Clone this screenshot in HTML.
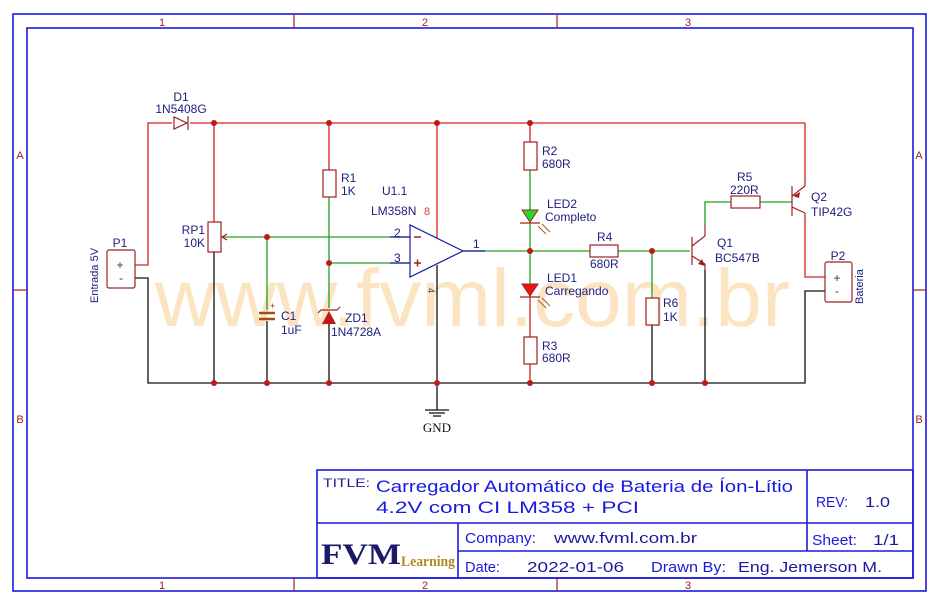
<!DOCTYPE html>
<html><head><meta charset="utf-8"><style>
html,body{margin:0;padding:0;background:#fff;}
svg{display:block;}
text{font-family:"Liberation Sans",Arial,sans-serif;}
</style></head><body>
<svg width="940" height="606" viewBox="0 0 940 606" xmlns="http://www.w3.org/2000/svg">
<rect x="0" y="0" width="940" height="606" fill="#fff"/>
<rect x="13" y="14" width="913" height="577" fill="none" stroke="#1a1adc" stroke-width="1.6"/>
<rect x="27" y="28" width="886" height="550" fill="none" stroke="#1a1adc" stroke-width="1.6"/>
<g stroke="#a02020" stroke-width="1.2">
<line x1="294" y1="14" x2="294" y2="28"/><line x1="557" y1="14" x2="557" y2="28"/>
<line x1="294" y1="578" x2="294" y2="591"/><line x1="557" y1="578" x2="557" y2="591"/>
<line x1="13" y1="290" x2="27" y2="290"/><line x1="913" y1="290" x2="926" y2="290"/>
</g>
<g fill="#a02020" font-size="11" text-anchor="middle">
<text x="162" y="26">1</text><text x="425" y="26">2</text><text x="688" y="26">3</text>
<text x="162" y="589">1</text><text x="425" y="589">2</text><text x="688" y="589">3</text>
<text x="20" y="159">A</text><text x="20" y="423">B</text>
<text x="919" y="159">A</text><text x="919" y="423">B</text>
</g>

<text x="155" y="326" font-size="82" fill="#f9d6a2" opacity="0.65" textLength="635" lengthAdjust="spacingAndGlyphs">www.fvml.com.br</text>

<g stroke="#d42020" stroke-width="1.3" fill="none">
<polyline points="135,265 148,265 148,123 172,123"/>
<line x1="190" y1="123" x2="805" y2="123"/>
<line x1="214" y1="123" x2="214" y2="222"/>
<line x1="329" y1="123" x2="329" y2="170"/>
<line x1="437" y1="123" x2="437" y2="238"/>
<line x1="530" y1="123" x2="530" y2="142"/>
<line x1="530" y1="296" x2="530" y2="337"/>
<line x1="530" y1="364" x2="530" y2="383"/>
<polyline points="805,123 805,180"/>
<polyline points="805,218 805,277 825,277"/>
</g>
<g stroke="#111" stroke-width="1.3" fill="none">
<polyline points="135,278 148,278 148,383 805,383 805,291 825,291"/>
<line x1="214" y1="252" x2="214" y2="383"/>
<line x1="267" y1="321" x2="267" y2="383"/>
<line x1="329" y1="324" x2="329" y2="383"/>
<line x1="437" y1="265" x2="437" y2="410"/>
<line x1="652" y1="325" x2="652" y2="383"/>
<line x1="705" y1="270" x2="705" y2="383"/>
</g>
<g stroke="#20a020" stroke-width="1.3" fill="none">
<line x1="222" y1="237" x2="410" y2="237"/>
<line x1="267" y1="237" x2="267" y2="310"/>
<line x1="329" y1="197" x2="329" y2="308"/>
<line x1="329" y1="263" x2="410" y2="263"/>
<line x1="463" y1="251" x2="590" y2="251"/>
<line x1="618" y1="251" x2="690" y2="251"/>
<line x1="530" y1="170" x2="530" y2="210"/>
<line x1="530" y1="222" x2="530" y2="284"/>
<line x1="652" y1="251" x2="652" y2="298"/>
<polyline points="705,225 705,202 731,202"/>
<line x1="760" y1="202" x2="792" y2="202"/>
</g>
<g stroke="#a02020" stroke-width="1.2" fill="none">
<polygon points="174,117 174,129 187,123" fill="#fff"/>
<line x1="188" y1="116" x2="188" y2="130"/>
<rect x="208" y="222" width="13" height="30" fill="#fff"/>
<polyline points="227,234 222,237 227,240"/>
<rect x="323" y="170" width="13" height="27" fill="#fff"/>
<rect x="524" y="142" width="13" height="28" fill="#fff"/>
<rect x="524" y="337" width="13" height="27" fill="#fff"/>
<rect x="590" y="245" width="28" height="12" fill="#fff"/>
<rect x="731" y="196" width="29" height="12" fill="#fff"/>
<rect x="646" y="298" width="13" height="27" fill="#fff"/>
<rect x="107" y="250" width="28" height="38" rx="2" fill="#fff"/>
<rect x="825" y="262" width="27" height="40" rx="2" fill="#fff"/>
<polygon points="410,225 410,277 463,251" fill="#fff" stroke="#1a1a9a"/>
</g>
<g stroke="#1a1a9a" stroke-width="1.2" fill="none">
<line x1="390" y1="237" x2="410" y2="237"/>
<line x1="390" y1="263" x2="410" y2="263"/>
<line x1="463" y1="251" x2="485" y2="251"/>
</g>
<g stroke="#a02020" stroke-width="1.5">
<line x1="414" y1="237" x2="421" y2="237"/>
<line x1="414" y1="263" x2="421" y2="263"/><line x1="417.5" y1="259.5" x2="417.5" y2="266.5"/>
</g>
<g stroke="#a05010" stroke-width="2.5"><line x1="259" y1="313" x2="275" y2="313"/><line x1="259" y1="319" x2="275" y2="319"/></g>
<text x="270" y="309" font-size="9" fill="#a02020">+</text>
<polygon points="322,324 336,324 329,311" fill="#c01818"/>
<polyline points="318,313 321,310 337,310 340,307" stroke="#a02020" fill="none" stroke-width="1.2"/>
<polygon points="522,210 538,210 530,222" fill="#22dd22" stroke="#a02020"/>
<line x1="520" y1="223" x2="540" y2="223" stroke="#a02020" stroke-width="1.2"/>
<polygon points="522,284 538,284 530,296" fill="#ee1111" stroke="#a02020"/>
<line x1="520" y1="297" x2="540" y2="297" stroke="#a02020" stroke-width="1.2"/>
<g stroke="#a06020" stroke-width="1"><line x1="538" y1="226" x2="546" y2="234"/><line x1="542" y1="224" x2="550" y2="232"/><line x1="538" y1="300" x2="546" y2="308"/><line x1="542" y1="298" x2="550" y2="306"/></g>
<g stroke="#a02020" stroke-width="1.2" fill="none">
<line x1="692" y1="237" x2="692" y2="265"/>
<line x1="692" y1="246" x2="705" y2="236"/><line x1="705" y1="236" x2="705" y2="225"/>
<line x1="692" y1="256" x2="705" y2="264"/><line x1="705" y1="264" x2="705" y2="270"/>
<line x1="792" y1="186" x2="792" y2="216"/>
<line x1="792" y1="196" x2="805" y2="186"/><line x1="805" y1="186" x2="805" y2="180"/>
<line x1="792" y1="207" x2="805" y2="213"/><line x1="805" y1="213" x2="805" y2="218"/>
</g>
<polygon points="705,266 698,264 702,259" fill="#a02020"/>
<polygon points="793,196 800,192 799,198" fill="#a02020"/>
<g stroke="#111" stroke-width="1.3"><line x1="425" y1="410" x2="449" y2="410"/><line x1="429" y1="413" x2="445" y2="413"/><line x1="433" y1="416" x2="441" y2="416"/></g>
<text x="437" y="432" font-size="13" text-anchor="middle" fill="#111" style="font-family:'Liberation Serif',serif">GND</text>
<g fill="#c01818">
<circle cx="214" cy="123" r="3"/><circle cx="329" cy="123" r="3"/><circle cx="437" cy="123" r="3"/><circle cx="530" cy="123" r="3"/>
<circle cx="267" cy="237" r="3"/><circle cx="329" cy="263" r="3"/><circle cx="530" cy="251" r="3"/><circle cx="652" cy="251" r="3"/>
<circle cx="214" cy="383" r="3"/><circle cx="267" cy="383" r="3"/><circle cx="329" cy="383" r="3"/><circle cx="437" cy="383" r="3"/><circle cx="530" cy="383" r="3"/><circle cx="652" cy="383" r="3"/><circle cx="705" cy="383" r="3"/>
</g>
<g fill="#202080" font-size="12">
<text x="181" y="101" text-anchor="middle">D1</text><text x="181" y="113" text-anchor="middle">1N5408G</text>
<text x="120" y="247" text-anchor="middle">P1</text>
<text x="120" y="269" text-anchor="middle" font-size="12" fill="#333">+</text><text x="121" y="282" text-anchor="middle" fill="#333">-</text>
<text transform="translate(98,303) rotate(-90)" font-size="11">Entrada 5V</text>
<text x="205" y="234" text-anchor="end">RP1</text><text x="205" y="247" text-anchor="end">10K</text>
<text x="341" y="182">R1</text><text x="341" y="195">1K</text>
<text x="382" y="195">U1.1</text><text x="371" y="215">LM358N</text>
<text x="424" y="215" fill="#d04040" font-size="11">8</text>
<text x="394" y="237">2</text><text x="394" y="262">3</text>
<text x="473" y="248">1</text>
<text transform="translate(428,288) rotate(90)" font-size="9" fill="#444">4</text>
<text x="281" y="320">C1</text><text x="281" y="334">1uF</text>
<text x="345" y="322">ZD1</text><text x="331" y="336">1N4728A</text>
<text x="542" y="155">R2</text><text x="542" y="168">680R</text>
<text x="547" y="208">LED2</text><text x="545" y="221">Completo</text>
<text x="597" y="241">R4</text><text x="590" y="268">680R</text>
<text x="547" y="282">LED1</text><text x="545" y="295">Carregando</text>
<text x="542" y="350">R3</text><text x="542" y="362">680R</text>
<text x="663" y="307">R6</text><text x="663" y="321">1K</text>
<text x="737" y="181">R5</text><text x="730" y="194">220R</text>
<text x="717" y="247">Q1</text><text x="715" y="262">BC547B</text>
<text x="811" y="201">Q2</text><text x="811" y="216">TIP42G</text>
<text x="838" y="260" text-anchor="middle">P2</text>
<text x="837" y="282" text-anchor="middle" font-size="12" fill="#333">+</text><text x="837" y="295" text-anchor="middle" fill="#333">-</text>
<text transform="translate(863,304) rotate(-90)" font-size="11">Bateria</text>
</g>
<g stroke="#1a1adc" stroke-width="1.6" fill="none">
<rect x="317" y="470" width="596" height="108"/>
<line x1="317" y1="523" x2="913" y2="523"/>
<line x1="458" y1="551" x2="913" y2="551"/>
<line x1="458" y1="523" x2="458" y2="578"/>
<line x1="807" y1="470" x2="807" y2="551"/>
</g>
<g style="font-family:'DejaVu Sans',sans-serif">
<text x="323" y="487" font-size="12" fill="#1a1a9a" textLength="47" lengthAdjust="spacingAndGlyphs">TITLE:</text>
<text x="376" y="492" font-size="17" fill="#1a1adc" textLength="417" lengthAdjust="spacingAndGlyphs">Carregador Automático de Bateria de Íon-Lítio</text>
<text x="376" y="513" font-size="17" fill="#1a1adc" textLength="263" lengthAdjust="spacingAndGlyphs">4.2V com CI LM358 + PCI</text>
<text x="816" y="507" font-size="15" fill="#1a1adc" textLength="32" lengthAdjust="spacingAndGlyphs">REV:</text><text x="865" y="507" font-size="15" fill="#1a1a9a" textLength="25" lengthAdjust="spacingAndGlyphs">1.0</text>
<text x="465" y="543" font-size="15" fill="#1a1adc" textLength="71" lengthAdjust="spacingAndGlyphs">Company:</text><text x="554" y="543" font-size="15" fill="#1a1a9a" textLength="143" lengthAdjust="spacingAndGlyphs">www.fvml.com.br</text>
<text x="812" y="545" font-size="15" fill="#1a1adc" textLength="45" lengthAdjust="spacingAndGlyphs">Sheet:</text><text x="873" y="545" font-size="15" fill="#1a1a9a" textLength="26" lengthAdjust="spacingAndGlyphs">1/1</text>
<text x="465" y="572" font-size="15" fill="#1a1adc" textLength="35" lengthAdjust="spacingAndGlyphs">Date:</text><text x="527" y="572" font-size="15" fill="#1a1a9a" textLength="97" lengthAdjust="spacingAndGlyphs">2022-01-06</text>
<text x="651" y="572" font-size="15" fill="#1a1adc" textLength="75" lengthAdjust="spacingAndGlyphs">Drawn By:</text><text x="738" y="572" font-size="15" fill="#1a1a9a" textLength="144" lengthAdjust="spacingAndGlyphs">Eng. Jemerson M.</text>
</g>
<text x="321" y="564" font-size="30" font-weight="bold" fill="#1a1a6a" style="font-family:'Liberation Serif',serif" textLength="80" lengthAdjust="spacingAndGlyphs">FVM</text>
<text x="401" y="566" font-size="15" font-weight="bold" fill="#b08a20" style="font-family:'Liberation Serif',serif" textLength="54" lengthAdjust="spacingAndGlyphs">Learning</text>
</svg>
</body></html>
